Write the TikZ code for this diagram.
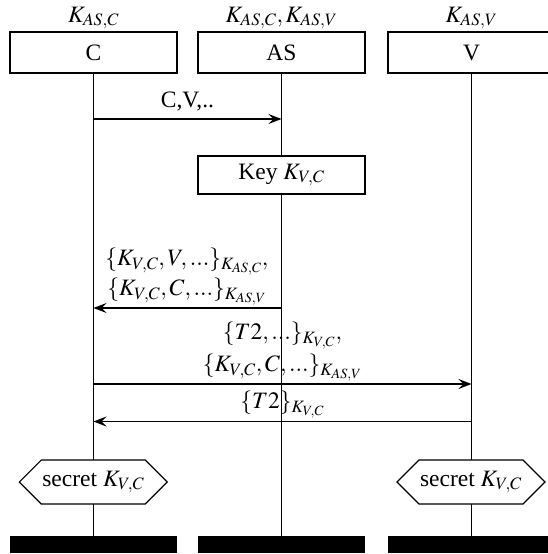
\documentclass[tikz,border=0pt]{standalone}
\usepackage{mathptmx}
\usepackage{fontspec}
\setmainfont{Liberation Serif}
\usetikzlibrary{arrows.meta,shapes.symbols}
\begin{document}
\begin{tikzpicture}[x=1pt,y=-1pt,
  font=\fontsize{23.5}{28}\selectfont,
  inst/.style={draw,line width=1.4pt,minimum width=167pt,minimum height=41pt,inner sep=0pt,fill=white},
  keybox/.style={inst,minimum height=38pt},
  endbar/.style={fill=black,minimum width=167pt,minimum height=17pt,inner sep=0pt},
  life/.style={line width=1.2pt},
  msg/.style={line width=1.2pt,-{Stealth[length=13pt,width=10pt,inset=5pt]}},
  lab/.style={inner sep=0pt},
  hexa/.style={draw,fill=white,line width=1.2pt,shape=signal,signal to=west and east,
    signal pointer angle=90,minimum width=146pt,minimum height=44pt,inner sep=1pt}]
\useasboundingbox (0,0) rectangle (547,554);
% instance heads
\node[inst] (C) at (93.5,52.5) {C};
\node[inst] (AS) at (281.5,52.5) {AS};
\node[inst] (V) at (471.5,52.5) {V};
\node[lab] (kC) at (93.5,18) {$K_{AS,C}$};
\node[lab] (kAS) at (281.5,18) {$K_{AS,C}, K_{AS,V}$};
\node[lab] (kV) at (471.5,18) {$K_{AS,V}$};
% end bars
\node[endbar] (eC) at (93.5,544.5) {};
\node[endbar] (eAS) at (281.5,544.5) {};
\node[endbar] (eV) at (471.5,544.5) {};
% lifelines
\draw[life] (C) -- (eC);
\draw[life] (AS) -- (eAS);
\draw[life] (V) -- (eV);
% action box
\node[keybox] (key) at (281.5,175) {Key $K_{V,C}$};
% lifeline points
\coordinate (c1) at (93.5,119);
\coordinate (a1) at (281.5,119);
\coordinate (a2) at (281.5,308);
\coordinate (c2) at (93.5,308);
\coordinate (c3) at (93.5,384);
\coordinate (v3) at (471.5,384);
\coordinate (v4) at (471.5,421.5);
\coordinate (c4) at (93.5,421.5);
% messages
\draw[msg] (c1) -- (a1);
\node[lab] (m1) at (187.5,102) {C,V,..};
\draw[msg] (a2) -- (c2);
\node[lab] (m2a) at (187,262) {$\{K_{V,C}, V, ...\}_{K_{AS,C}},$};
\node[lab] (m2b) at (187,292) {$\{K_{V,C}, C, ...\}_{K_{AS,V}}$};
\draw[msg] (c3) -- (v3);
\node[lab] (m3a) at (282.5,336) {$\{T2, ...\}_{K_{V,C}},$};
\node[lab] (m3b) at (282.5,368) {$\{K_{V,C}, C, ...\}_{K_{AS,V}}$};
\draw[msg] (v4) -- (c4);
\node[lab] (m4) at (282.5,405) {$\{T2\}_{K_{V,C}}$};
% conditions
\node[hexa] (sC) at (93.3,482) {secret $K_{V,C}$};
\node[hexa] (sV) at (471,482) {secret $K_{V,C}$};
\end{tikzpicture}
\end{document}
